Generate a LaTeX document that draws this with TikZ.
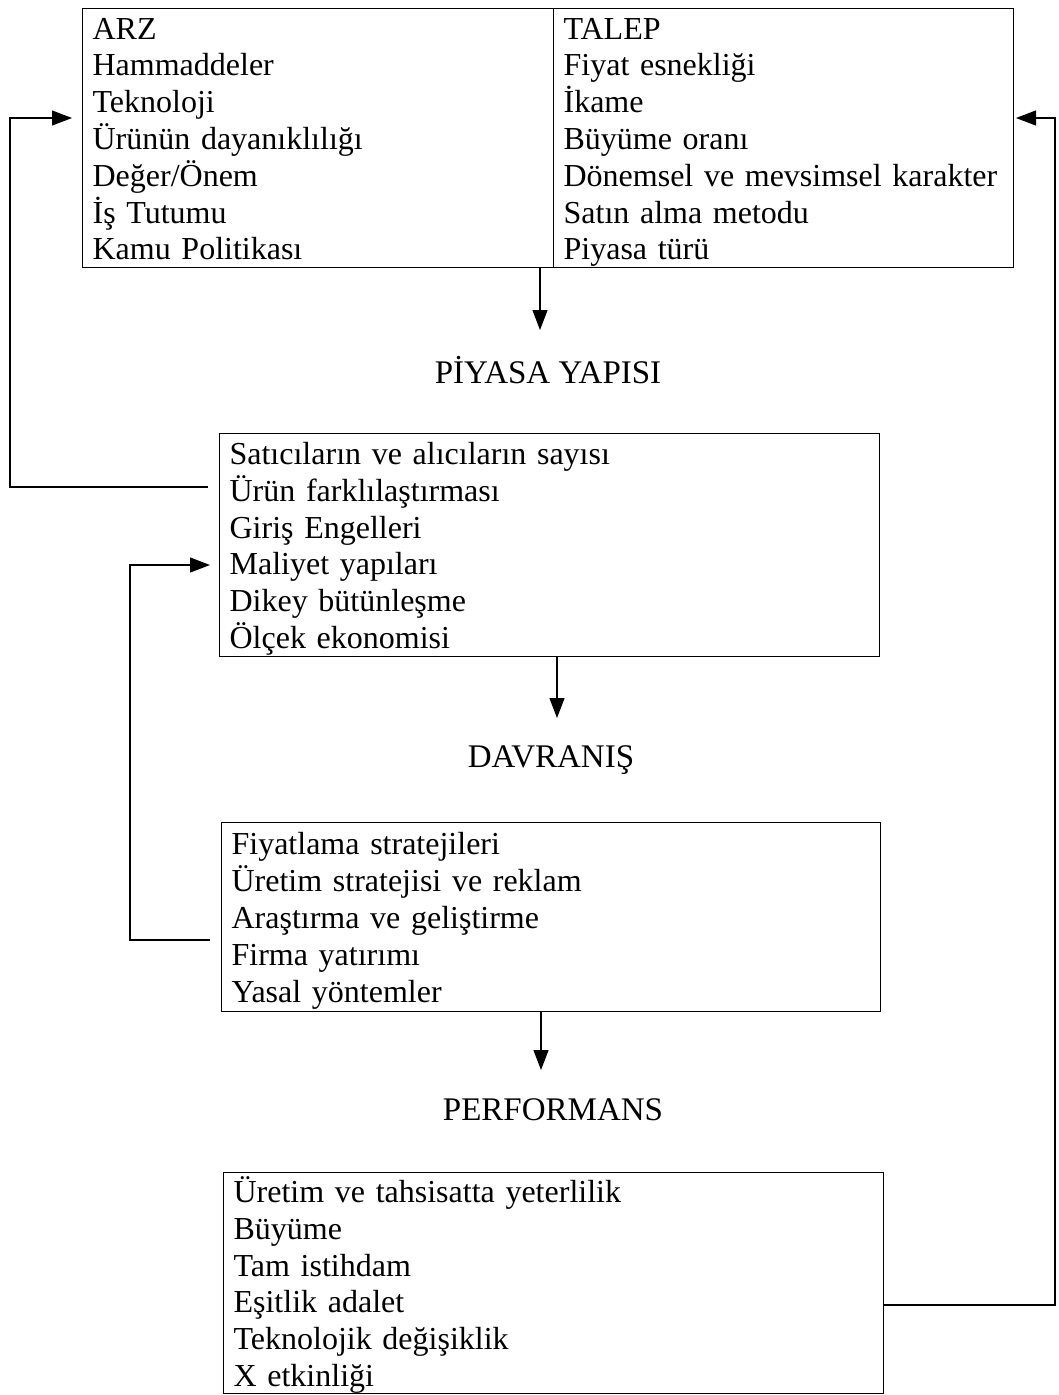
\documentclass[tikz,border=0pt]{standalone}
\usepackage{fontspec}
\setmainfont{Liberation Serif}
\usetikzlibrary{arrows.meta}
\newcommand{\boxstrut}{\rule[-7pt]{0pt}{36.8pt}}
\begin{document}
\begin{tikzpicture}[x=1pt,y=-1pt,
  box/.style={draw,line width=1.2pt,align=left,inner xsep=10pt,inner ysep=0pt,
    anchor=north west,font=\fontsize{32}{36.8}\selectfont,
    execute at begin node=\boxstrut,execute at end node=\boxstrut},
  lbl/.style={inner sep=0pt,font=\fontsize{33}{38}\selectfont},
  arr/.style={line width=1.2pt,-{Triangle[length=20pt,width=15pt]}},
  ln/.style={line width=1.2pt}]
\useasboundingbox (0,0) rectangle (1059,1395);
% boxes
\node[box,text width=451pt,minimum height=259pt] (arz) at (82,8)
  {ARZ\\Hammaddeler\\Teknoloji\\Ürünün dayanıklılığı\\Değer/Önem\\İş Tutumu\\Kamu Politikası};
\node[box,text width=440pt,minimum height=259pt] (talep) at (553,8)
  {TALEP\\Fiyat esnekliği\\İkame\\Büyüme oranı\\Dönemsel ve mevsimsel karakter\\Satın alma metodu\\Piyasa türü};
\node[lbl] (py) at (548,370) {PİYASA YAPISI};
\node[box,text width=640pt,minimum height=223pt] (ms) at (219,433)
  {Satıcıların ve alıcıların sayısı\\Ürün farklılaştırması\\Giriş Engelleri\\Maliyet yapıları\\Dikey bütünleşme\\Ölçek ekonomisi};
\node[lbl] (dv) at (551,760) {DAVRANIŞ};
\node[box,text width=639pt,minimum height=189pt] (cd) at (221,822)
  {Fiyatlama stratejileri\\Üretim stratejisi ve reklam\\Araştırma ve geliştirme\\Firma yatırımı\\Yasal yöntemler};
\node[lbl] (pf) at (553,1110) {PERFORMANS};
\node[box,text width=640pt,minimum height=221pt] (pr) at (223,1172)
  {Üretim ve tahsisatta yeterlilik\\Büyüme\\Tam istihdam\\Eşitlik adalet\\Teknolojik değişiklik\\X etkinliği};
% down arrows
\coordinate (d1) at (540,330);
\coordinate (d2) at (557,718);
\coordinate (d3) at (541,1070);
\draw[arr] (arz.south -| d1) -- (d1);
\draw[arr] (ms.south -| d2) -- (d2);
\draw[arr] (cd.south -| d3) -- (d3);
% feedback: market structure -> supply
\coordinate (f1s) at (208,487);
\coordinate (f1t) at (72,118);
\draw[arr] (f1s) -- (10,487) -- (10,118) -- (f1t);
% feedback: conduct -> market structure
\coordinate (f2s) at (210,940);
\coordinate (f2t) at (210,565);
\draw[arr] (f2s) -- (130,940) -- (130,565) -- (f2t);
% feedback: performance -> demand
\coordinate (f3t) at (1016,118);
\draw[arr] (pr.east |- 0,1305) -- (1055,1305) -- (1055,118) -- (f3t);
\end{tikzpicture}
\end{document}
